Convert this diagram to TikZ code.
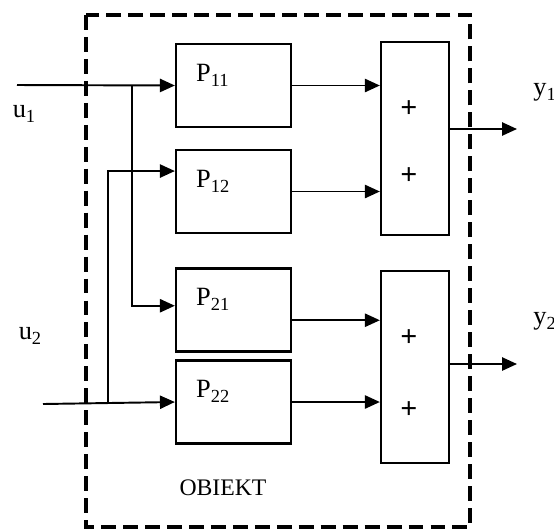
\documentclass[tikz,border=0pt]{standalone}
\usepackage{fontspec}
\setmainfont{Liberation Serif}
\usetikzlibrary{arrows.meta,positioning,calc}
\newcommand{\idx}[1]{\raisebox{-0.4ex}{\fontsize{10.5}{10.5}\selectfont #1}}

\begin{document}
\begin{tikzpicture}[x=0.02cm,y=-0.02cm,
  blok/.style={draw,line width=1.3pt,minimum width=2.3cm,minimum height=1.66cm,inner sep=0pt},
  suma/.style={draw,line width=1.3pt,minimum width=1.36cm,minimum height=3.85cm,inner sep=0pt},
  opis/.style={font=\fontsize{15}{17}\selectfont},
  napis/.style={blok,label={[opis,anchor=north west,inner sep=0pt,xshift=0.42cm,yshift=-0.42cm]north west:{P\idx{#1}}}},
  sig/.style={line width=1.1pt,-{Triangle[length=8.5pt,width=7.5pt]}}]
  \useasboundingbox (0,0) rectangle (554,529);
  \draw[line width=1.9pt,dash pattern=on 8.5pt off 4pt] (86,15) rectangle (470,527);
  \node[napis=11] (P11) at (233.5,85.5) {};
  \node[napis=12] (P12) at (233.5,191.5) {};
  \node[napis=21] (P21) at (233.5,310) {};
  \node[napis=22] (P22) at (233.5,402) {};
  \node[suma] (S1) at (415,138.5) {};
  \node[suma] (S2) at (415,367) {};
  \foreach \n/\y in {a/109,b/176,c/338,d/410}
    \node[font=\fontsize{17}{17}\selectfont\bfseries] (plus\n) at (409,\y) {+};
  \coordinate (in1) at (17,85);
  \coordinate (in2) at (43,404);
  \coordinate (b1) at (132,85);
  \coordinate (b2) at (108,404);
  \coordinate (y1tip) at (517,129);
  \coordinate (y2tip) at (517,364);
  \draw[sig] (in1) -- (P11.west);
  \draw[sig] (in2) -- (P22.west);
  \draw[sig] (b1) |- ($(P21.north west)!.45!(P21.south west)$);
  \draw[sig] (b2) |- ($(P12.north west)!.26!(P12.south west)$);
  \draw[sig] (P11.east) -- (P11.east -| S1.west);
  \draw[sig] (P12.east) -- (P12.east -| S1.west);
  \draw[sig] ($(P21.north east)!.62!(P21.south east)$) coordinate (o21) -- (o21 -| S2.west);
  \draw[sig] (P22.east) -- (P22.east -| S2.west);
  \draw[sig] (y1tip -| S1.east) -- (y1tip);
  \draw[sig] (y2tip -| S2.east) -- (y2tip);
  \node[opis] (u1) at (24,114) {u\idx{1}};
  \node[opis] (u2) at (30,336) {u\idx{2}};
  \node[opis,anchor=west,inner sep=0pt] (y1) at (533,92) {y\idx{1}};
  \node[opis,anchor=west,inner sep=0pt] (y2) at (533,321) {y\idx{2}};
  \node[font=\fontsize{13.5}{15}\selectfont] (obiekt) at (223,488) {OBIEKT};
\end{tikzpicture}
\end{document}
